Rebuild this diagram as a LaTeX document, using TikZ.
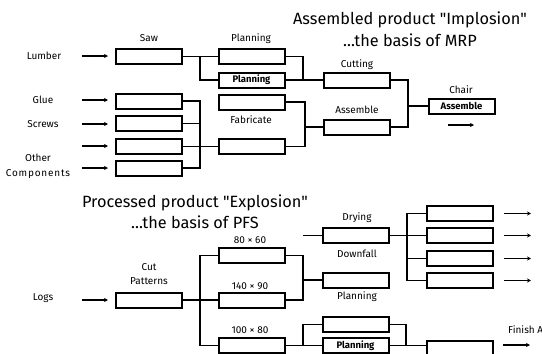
\documentclass[tikz,border=0pt]{standalone}
\usepackage{fontspec}
\setmainfont{Fira Sans}
\usetikzlibrary{arrows.meta}
\tikzset{
  pbox/.style={draw, line width=2pt, minimum width=66pt, minimum height=15pt, inner sep=0pt, font=\fontsize{9.5}{10}\selectfont\bfseries},
  lbl/.style={inner sep=0pt, font=\fontsize{10}{12}\selectfont},
  side/.style={inner sep=0pt, align=center, font=\fontsize{10}{15}\selectfont},
  ttl/.style={inner sep=0pt, font=\fontsize{16.3}{19}\selectfont},
  conn/.style={line width=1.5pt},
  inarr/.style={line width=1.4pt, -{Stealth[length=4pt,width=4pt]}},
}
\begin{document}
\begin{tikzpicture}[x=1pt,y=-1pt]
\useasboundingbox (0,0) rectangle (542,354);
\clip (0,0) rectangle (542,354);
% ---------- top: implosion ----------
\node[ttl] (t1) at (410,20) {Assembled product \textquotedbl Implosion\textquotedbl};
\node[ttl] (t2) at (410,40) {...the basis of MRP};

\node[side] (lumber) at (44,56) {Lumber};
\node[side] (glue) at (43,100) {Glue};
\node[side] (screws) at (43,124) {Screws};
\node[side] (other) at (38,166) {Other\\{\addfontfeature{LetterSpace=8}Components}};

\node[pbox] (saw) at (149,56.5) {};
\node[pbox] (glueb) at (149,101) {};
\node[pbox] (screwsb) at (149,123.5) {};
\node[pbox] (blankb) at (149,146.5) {};
\node[pbox] (otherb) at (149,168) {};
\node[lbl] (sawl) at (149,38) {Saw};

\coordinate (la1) at (82,56);   \coordinate (la1e) at (108,56);
\coordinate (la2) at (82,100);  \coordinate (la2e) at (108,100);
\coordinate (la3) at (82,124);  \coordinate (la3e) at (108,124);
\coordinate (la4) at (82,146);  \coordinate (la4e) at (108,146);
\coordinate (la5) at (82,168);  \coordinate (la5e) at (108,168);
\foreach \i in {1,...,5} {\draw[inarr] (la\i) -- (la\i e);}

\node[pbox] (plan1) at (251.5,56.5) {};
\node[pbox] (plan2) at (251.5,80) {Planning};
\node[pbox] (box3) at (251.5,102) {};
\node[pbox] (box4) at (251.5,146.5) {};
\node[lbl] (planl) at (251,39) {Planning};
\node[lbl] (fabl) at (251,120) {Fabricate};

\node[pbox] (cut) at (356.5,80) {};
\node[pbox] (asm) at (356.5,127) {};
\node[lbl] (cutl) at (357,65) {Cutting};
\node[lbl] (asml) at (357,110) {Assemble};

\node[pbox] (chair) at (461.5,106) {Assemble};
\node[lbl] (chairl) at (461,90) {Chair};
\coordinate (ca) at (448,125); \coordinate (cae) at (474,125);
\draw[inarr] (ca) -- (cae);

% connectors top
\coordinate (j0) at (200,80);
\draw[conn] (saw.east) -- (plan1.west);
\draw[conn] (saw.east) -| (j0) -- (plan2.west);
\coordinate (j1) at (200,146.5);
\draw[conn] (glueb.east) -| (j1);
\draw[conn] (otherb.east) -| (j1);
\draw[conn] (screwsb.east) -- (screwsb.east -| j1);
\draw[conn] (blankb.east) -- (box4.west);
\coordinate (j2) at (303,80);
\draw[conn] (plan1.east) -| (j2);
\draw[conn] (plan2.east) -- (cut.west);
\coordinate (j3) at (305,146.5);
\draw[conn] (box3.east) -| (j3) -- (box4.east);
\draw[conn] (asm.west) -- (asm.west -| j3);
\coordinate (j4) at (408,106);
\draw[conn] (cut.east) -| (j4);
\draw[conn] (asm.east) -| (j4);
\draw[conn] (j4) -- (chair.west);

% ---------- bottom: explosion ----------
\node[ttl] (t3) at (195,203) {Processed product \textquotedbl Explosion\textquotedbl};
\node[ttl] (t4) at (195,222) {...the basis of PFS};

\node[side] (logs) at (43,298) {Logs};
\coordinate (lg) at (82,300); \coordinate (lge) at (108,300);
\draw[inarr] (lg) -- (lge);
\node[pbox] (cp) at (149,300) {};
\node[lbl] (cpl1) at (149,267) {Cut};
\node[lbl] (cpl2) at (149,281) {Patterns};

\node[pbox] (b8060) at (251.5,255.5) {};
\node[pbox] (b14090) at (251.5,300) {};
\node[pbox] (b10080) at (251.5,345.5) {};
\node[lbl] (l8060) at (250,240) {80 × 60};
\node[lbl] (l14090) at (250,286) {140 × 90};
\node[lbl] (l10080) at (250,330) {100 × 80};

\coordinate (k1) at (200,300);
\draw[conn] (cp.east) -- (b14090.west);
\draw[conn] (k1) |- (b8060.west);
\draw[conn] (k1) |- (b10080.west);

\node[pbox] (dry) at (355.5,235.5) {};
\node[pbox] (down) at (355.5,280) {};
\node[lbl] (dryl) at (357,218) {Drying};
\node[lbl] (downl) at (357,254) {Downfall};
\node[lbl] (plnl) at (357,297) {Planning};

\coordinate (k2) at (303,300);
\draw[conn] (b8060.east) -| (k2) -- (b14090.east);
\draw[conn] (dry.west) -- (dry.west -| k2);
\draw[conn] (down.west) -- (down.west -| k2);

\node[pbox] (o1) at (460,213.5) {};
\node[pbox] (o2) at (460,235.5) {};
\node[pbox] (o3) at (460,258.5) {};
\node[pbox] (o4) at (460,280.5) {};
\coordinate (k3) at (407,235.5);
\draw[conn] (dry.east) -- (o2.west);
\draw[conn] (k3) |- (o1.west);
\draw[conn] (k3) |- (o4.west);
\draw[conn] (o3.west) -- (o3.west -| k3);
\foreach \n in {1,...,4} {
  \coordinate (oa\n) at ([xshift=10pt]o\n.east);
  \coordinate (oae\n) at ([xshift=37pt]o\n.east);
  \draw[inarr] (oa\n) -- (oae\n);
}

\node[pbox] (p1) at (355.5,324.5) {};
\node[pbox] (p2) at (355.5,345.5) {Planning};
\coordinate (k4) at (303,345.5);
\draw[conn] (b10080.east) -- (p2.west);
\draw[conn] (k4) |- (p1.west);
\node[pbox, minimum height=30pt, anchor=north] (fin) at (460,340) {};
\coordinate (k5) at (406,345.5);
\draw[conn] (p1.east) -| (k5);
\draw[conn] (p2.east) -- (p2.east -| fin.west);
\node[lbl, anchor=west] (finl) at (508,330) {Finish A};
\coordinate (fa) at (503,345); \coordinate (fae) at (530,345);
\draw[inarr] (fa) -- (fae);
\end{tikzpicture}
\end{document}
